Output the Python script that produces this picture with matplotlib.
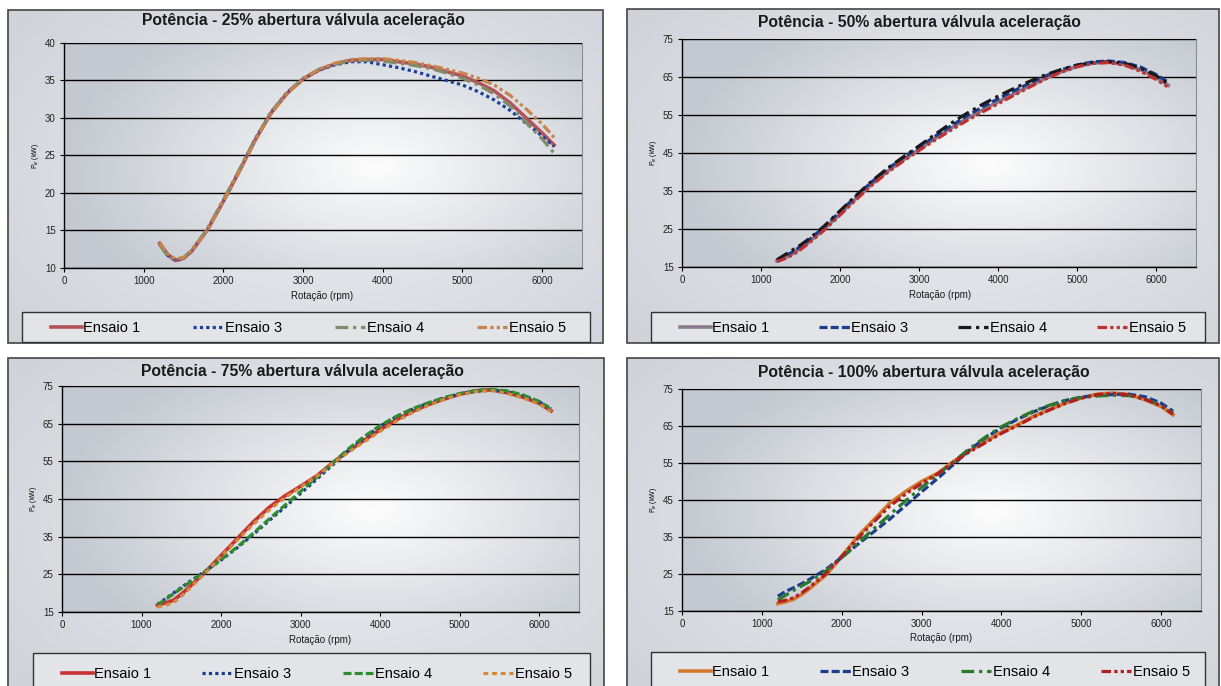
import numpy as np
import matplotlib.pyplot as plt
from matplotlib.patches import Rectangle

plt.rcParams['font.family'] = ['Liberation Sans', 'DejaVu Sans']

# rotation values (rpm) shared by all series
rpm = [1200, 1300, 1400, 1500, 1600, 1800, 2000, 2200, 2400, 2600, 2800, 3000, 3200, 3400,
       3600, 3800, 4000, 4200, 4400, 4600, 4800, 5000, 5200, 5400, 5600, 5800, 6000, 6150]

series_names = ["Ensaio 1", "Ensaio 3", "Ensaio 4", "Ensaio 5"]

# 25% throttle
p25_e1 = [13.3, 11.8, 11.0, 11.3, 12.2, 15.1, 18.9, 22.9, 27.1, 30.7, 33.3, 35.2, 36.4, 37.2,
          37.7, 37.8, 37.8, 37.5, 37.2, 36.8, 36.2, 35.6, 34.7, 33.6, 32.0, 30.0, 28.0, 26.4]
p25_e3 = [13.2, 11.7, 11.0, 11.3, 12.3, 15.2, 19.0, 23.0, 27.2, 30.8, 33.4, 35.2, 36.4, 37.1,
          37.5, 37.5, 37.1, 36.7, 36.2, 35.6, 35.0, 34.4, 33.5, 32.4, 31.0, 29.3, 27.6, 26.2]
p25_e4 = [13.1, 11.6, 11.1, 11.4, 12.3, 15.2, 19.1, 23.1, 27.2, 30.8, 33.4, 35.3, 36.5, 37.2,
          37.6, 37.7, 37.6, 37.3, 37.0, 36.6, 36.0, 35.3, 34.4, 33.2, 31.6, 29.4, 27.2, 25.3]
p25_e5 = [13.4, 11.9, 11.2, 11.4, 12.3, 15.1, 18.9, 22.9, 27.0, 30.6, 33.3, 35.2, 36.5, 37.3,
          37.8, 37.9, 37.9, 37.7, 37.4, 37.0, 36.5, 36.0, 35.3, 34.4, 33.0, 31.2, 29.2, 27.4]

# 50% throttle
p50_e1 = [16.6, 17.4, 18.5, 19.9, 21.5, 25.0, 29.0, 33.0, 36.8, 40.2, 43.2, 46.0, 48.8, 51.5,
          54.0, 56.3, 58.5, 60.6, 62.7, 64.7, 66.4, 67.8, 68.7, 68.9, 68.3, 66.9, 64.8, 62.8]
p50_e3 = [16.8, 17.8, 19.0, 20.4, 22.0, 25.6, 29.6, 33.6, 37.4, 40.8, 43.8, 46.6, 49.4, 52.1,
          54.7, 57.1, 59.3, 61.4, 63.4, 65.3, 66.9, 68.2, 69.0, 69.2, 68.8, 67.6, 65.6, 63.6]
p50_e4 = [16.9, 18.2, 19.5, 20.8, 22.3, 25.8, 29.8, 33.8, 37.6, 41.0, 44.0, 46.9, 49.9, 52.8,
          55.4, 57.8, 60.0, 62.0, 63.9, 65.6, 67.0, 68.1, 68.8, 69.0, 68.6, 67.3, 65.3, 63.2]
p50_e5 = [16.4, 17.2, 18.2, 19.6, 21.2, 24.7, 28.7, 32.7, 36.5, 39.9, 42.9, 45.7, 48.4, 51.0,
          53.5, 55.8, 58.0, 60.2, 62.4, 64.5, 66.3, 67.7, 68.6, 68.8, 68.1, 66.5, 64.3, 62.3]

# 75% throttle
p75_e1 = [16.8, 17.4, 18.1, 19.7, 21.6, 25.6, 30.0, 34.4, 38.8, 42.7, 45.8, 48.4, 51.1, 54.6,
          57.7, 60.6, 63.4, 66.0, 68.2, 70.0, 71.5, 72.8, 73.7, 74.0, 73.2, 72.0, 70.4, 68.4]
p75_e3 = [17.0, 18.5, 20.0, 21.5, 23.0, 25.8, 28.8, 32.0, 35.5, 39.2, 42.8, 46.5, 50.2, 54.0,
          57.9, 61.3, 64.3, 66.8, 68.8, 70.4, 71.8, 72.9, 73.6, 73.9, 73.5, 72.4, 70.8, 69.0]
p75_e4 = [16.9, 18.3, 19.8, 21.3, 22.8, 25.7, 28.9, 32.2, 35.8, 39.6, 43.3, 47.0, 50.7, 54.5,
          58.3, 61.6, 64.5, 66.9, 68.9, 70.5, 71.9, 73.0, 73.8, 74.1, 73.7, 72.6, 70.9, 68.8]
p75_e5 = [16.3, 16.8, 17.5, 19.2, 21.2, 25.3, 29.8, 34.0, 38.2, 42.0, 45.3, 48.2, 51.0, 54.4,
          57.4, 60.2, 63.0, 65.6, 67.9, 69.8, 71.4, 72.7, 73.5, 73.8, 73.0, 71.8, 70.2, 68.2]

# 100% throttle
p100_e1 = [17.0, 17.5, 18.2, 19.5, 21.1, 24.7, 29.7, 35.1, 39.6, 44.1, 47.3, 50.0, 52.2, 55.4,
           58.3, 60.8, 63.3, 65.3, 67.6, 69.4, 71.2, 72.6, 73.6, 73.9, 73.5, 72.1, 70.3, 68.0]
p100_e3 = [19.0, 20.3, 21.3, 22.4, 23.6, 26.2, 29.5, 33.0, 36.4, 39.8, 43.5, 47.2, 50.8, 54.6,
           58.5, 61.8, 64.5, 66.8, 68.8, 70.5, 71.9, 72.8, 73.3, 73.5, 73.6, 72.9, 71.2, 69.0]
p100_e4 = [18.0, 19.3, 20.6, 21.8, 23.0, 25.8, 29.4, 33.3, 37.2, 41.0, 44.8, 48.4, 51.8, 55.3,
           58.9, 62.0, 64.8, 67.0, 69.0, 70.6, 71.9, 72.7, 73.1, 73.3, 73.2, 72.3, 70.6, 68.5]
p100_e5 = [17.5, 17.9, 18.6, 19.9, 21.5, 25.0, 29.8, 34.6, 39.0, 43.3, 46.6, 49.5, 52.0, 55.2,
           58.0, 60.5, 63.0, 65.1, 67.4, 69.3, 71.1, 72.5, 73.5, 73.8, 73.4, 72.2, 70.4, 68.2]

W, H = 1221, 686


def fig_rect(x0, y0, x1, y1):
    # pixel box (y from the top) -> figure fraction [left, bottom, width, height]
    return [x0 / W, 1 - y1 / H, (x1 - x0) / W, (y1 - y0) / H]


def gradient(ax, edge, center, cx, cy, rx, ry):
    yy, xx = np.mgrid[0:1:120j, 0:1:200j]
    r = np.clip(np.sqrt(((xx - cx) / rx) ** 2 + ((yy - cy) / ry) ** 2), 0, 1)[..., None]
    img = np.array(center) * (1 - r) + np.array(edge) * r
    ax.imshow(img, extent=(0, 1, 0, 1), transform=ax.transAxes, aspect='auto',
              origin='lower', zorder=0, interpolation='bilinear')


def drawChart(fig, panel, plot, legend_box, legend_text_y, title, title_pos, xlabel_pos,
              yticks, data, styles):
    # panel background with its border
    bg = fig.add_axes(fig_rect(*panel))
    bg.axis('off')
    gradient(bg, (0.80, 0.81, 0.84), (0.92, 0.93, 0.94), 0.55, 0.5, 0.8, 0.9)
    bg.set_xlim(0, 1)
    bg.set_ylim(0, 1)
    bg.add_patch(Rectangle((0, 0), 1, 1, transform=bg.transAxes, fill=False,
                           edgecolor='#444444', linewidth=1.2, clip_on=False))

    # legend frame (its lower edge is hidden by the panel edge, as in the scan)
    lx0, ly0, lx1, lx_text_end = legend_box
    fx, fy, fw, fh = fig_rect(lx0, ly0, lx1, panel[3] - 1)
    fig.patches.append(Rectangle((fx, fy), fw, fh, transform=fig.transFigure,
                                 facecolor='#e2e4e7', edgecolor='#333333', linewidth=1.0,
                                 zorder=1))

    ax = fig.add_axes(fig_rect(*plot))
    gradient(ax, (0.77, 0.79, 0.82), (0.99, 0.99, 0.99), 0.6, 0.45, 0.6, 0.75)

    handles = []
    for values, (color, ls, lw) in zip(data, styles):
        line, = ax.plot(rpm, values, color=color, linestyle=ls, linewidth=lw, zorder=3)
        handles.append(line)

    ax.set_xlim(0, 6500)
    ax.set_ylim(yticks[0], yticks[-1])
    ax.set_xticks(range(0, 7000, 1000))
    ax.set_yticks(yticks)
    ax.yaxis.grid(True, color='black', linewidth=1.0, zorder=1)
    ax.set_axisbelow(False)
    for s in ['left', 'bottom']:
        ax.spines[s].set_color('black')
        ax.spines[s].set_linewidth(1.0)
    for s in ['top', 'right']:
        ax.spines[s].set_color('#8a8d92')
        ax.spines[s].set_linewidth(0.8)
    ax.tick_params(labelsize=7, length=3, width=0.8, pad=3, labelcolor='#222222')
    ax.set_ylabel("P$_e$ (kW)", fontsize=5, labelpad=3)

    # title and x label placed in pixels like the scanned sheet
    fig.text(title_pos[0] / W, 1 - title_pos[1] / H, title, ha='center', va='center',
             fontsize=11.3, fontweight='bold', color='#1a1a1a')
    fig.text(xlabel_pos[0] / W, 1 - xlabel_pos[1] / H, "Rotação (rpm)", ha='center',
             va='center', fontsize=7, color='#1a1a1a')

    # legend entries spread over the frame
    leg_first = lx0 + 29
    leg = fig.legend(handles, series_names, loc='center left', ncol=4, mode='expand',
                     bbox_to_anchor=(leg_first / W, 1 - (legend_text_y + 10) / H,
                                     (lx_text_end - leg_first) / W, 20 / H),
                     fontsize=10.5, frameon=False, handlelength=2.1, handletextpad=0.1,
                     borderaxespad=0.0, borderpad=0.0)
    leg.set_zorder(5)


dot = (0, (1, 1))
dash = (0, (2.5, 1))
dashdot = (0, (4, 1.5, 1, 1.5))
dashdotdot = (0, (3, 1, 1, 1, 1, 1))

fig = plt.figure(figsize=(12.21, 6.86), dpi=100)
fig.patch.set_facecolor('white')

drawChart(fig, (8, 10, 603, 343), (64, 43, 582, 268), (22, 312, 590, 566), 328,
          "Potência - 25% abertura válvula aceleração", (303, 21), (322, 296),
          [10, 15, 20, 25, 30, 35, 40],
          [p25_e1, p25_e3, p25_e4, p25_e5],
          [('#b4525a', '-', 2.6), ('#1b3f9a', dot, 2.3), ('#7f8c6c', dashdot, 2.3),
           ('#c8844a', dashdotdot, 2.3)])

drawChart(fig, (627, 9, 1219, 343), (682, 39, 1196, 267), (651, 312, 1205, 1186), 328,
          "Potência - 50% abertura válvula aceleração", (919, 23), (940, 295),
          [15, 25, 35, 45, 55, 65, 75],
          [p50_e1, p50_e3, p50_e4, p50_e5],
          [('#8c7b8e', '-', 2.6), ('#1c3c8c', dash, 2.3), ('#1a1a1a', dashdot, 2.3),
           ('#c03030', dashdotdot, 2.3)])

drawChart(fig, (8, 358, 604, 690), (62, 386, 579, 612), (33, 653, 590, 572), 674,
          "Potência - 75% abertura válvula aceleração", (302, 371), (320, 640),
          [15, 25, 35, 45, 55, 65, 75],
          [p75_e1, p75_e3, p75_e4, p75_e5],
          [('#c83232', '-', 2.6), ('#1c3c8c', dot, 2.3), ('#2e8b2e', dash, 2.3),
           ('#d08a3a', (0, (1.5, 1.2)), 2.3)])

drawChart(fig, (627, 358, 1219, 690), (682, 389, 1201, 611), (651, 652, 1205, 1190), 672,
          "Potência - 100% abertura válvula aceleração", (924, 373), (941, 638),
          [15, 25, 35, 45, 55, 65, 75],
          [p100_e1, p100_e3, p100_e4, p100_e5],
          [('#d2782f', '-', 2.6), ('#1c3c8c', dash, 2.3), ('#2a7a2a', dashdot, 2.3),
           ('#b02020', dashdotdot, 2.3)])

fig.savefig("out.png", dpi=100)
